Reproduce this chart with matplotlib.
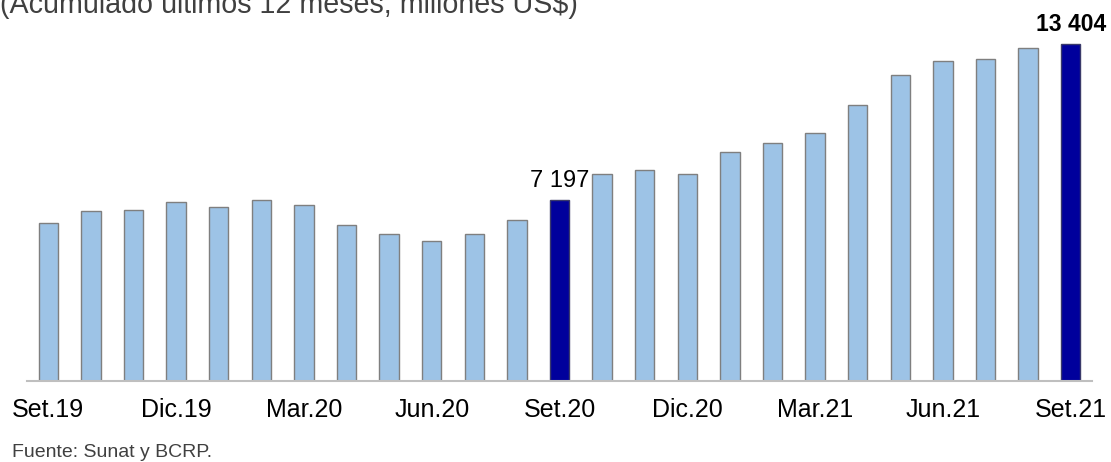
import matplotlib
matplotlib.use('Agg')
import matplotlib.pyplot as plt
import numpy as np

plt.rcParams['font.family'] = ['Liberation Sans', 'DejaVu Sans']

# monthly values, Set.19 .. Set.21 (millones US$, acumulado 12 meses)
values = [6290, 6770, 6810, 7110, 6940, 7210, 7010, 6210, 5850, 5570, 5850, 6410,
          7197, 8220, 8410, 8230, 9125, 9485, 9845, 10975, 12160, 12715, 12810, 13245,
          13404]
highlight = [12, 24]
tick_pos = [0, 3, 6, 9, 12, 15, 18, 21, 24]
tick_labels = ['Set.19', 'Dic.19', 'Mar.20', 'Jun.20', 'Set.20', 'Dic.20', 'Mar.21', 'Jun.21', 'Set.21']

W, H = 1111, 462
fig = plt.figure(figsize=(W / 100, H / 100), dpi=100)
ax = fig.add_axes([27 / W, 1 - 381 / H, 1065 / W, 352 / H])

x = np.arange(len(values))
colors = ['#00009C' if i in highlight else '#9DC3E6' for i in x]
edges = ['#3A3A6A' if i in highlight else '#7F7F7F' for i in x]
ax.bar(x, values, width=0.46, color=colors, edgecolor=edges, linewidth=1.0, zorder=2)

ax.set_xlim(-0.5, len(values) - 0.5)
ax.set_ylim(0, 14000)
for s in ['top', 'right', 'left']:
    ax.spines[s].set_visible(False)
ax.spines['bottom'].set_color('#BFBFBF')
ax.spines['bottom'].set_linewidth(1.5)
ax.set_yticks([])
ax.set_xticks(tick_pos)
ax.set_xticklabels(tick_labels, fontsize=18, color='black')
ax.tick_params(axis='x', length=0, pad=12)

ax.text(12, values[12] + 500, '7 197', ha='center', va='baseline', fontsize=17)
ax.text(24, values[24] + 520, '13 404', ha='center', va='baseline', fontsize=16.5, fontweight='bold')

# title is partly cut at the top edge, as in the source image
fig.text(0 / W, 1 - 13 / H, '(Acumulado últimos 12 meses, millones US$)', ha='left', va='baseline',
         fontsize=20.6, color='#404040')
fig.text(12 / W, 1 - 457 / H, 'Fuente: Sunat y BCRP.', ha='left', va='baseline', fontsize=14,
         color='#404040')

fig.savefig('out.png', dpi=100)
